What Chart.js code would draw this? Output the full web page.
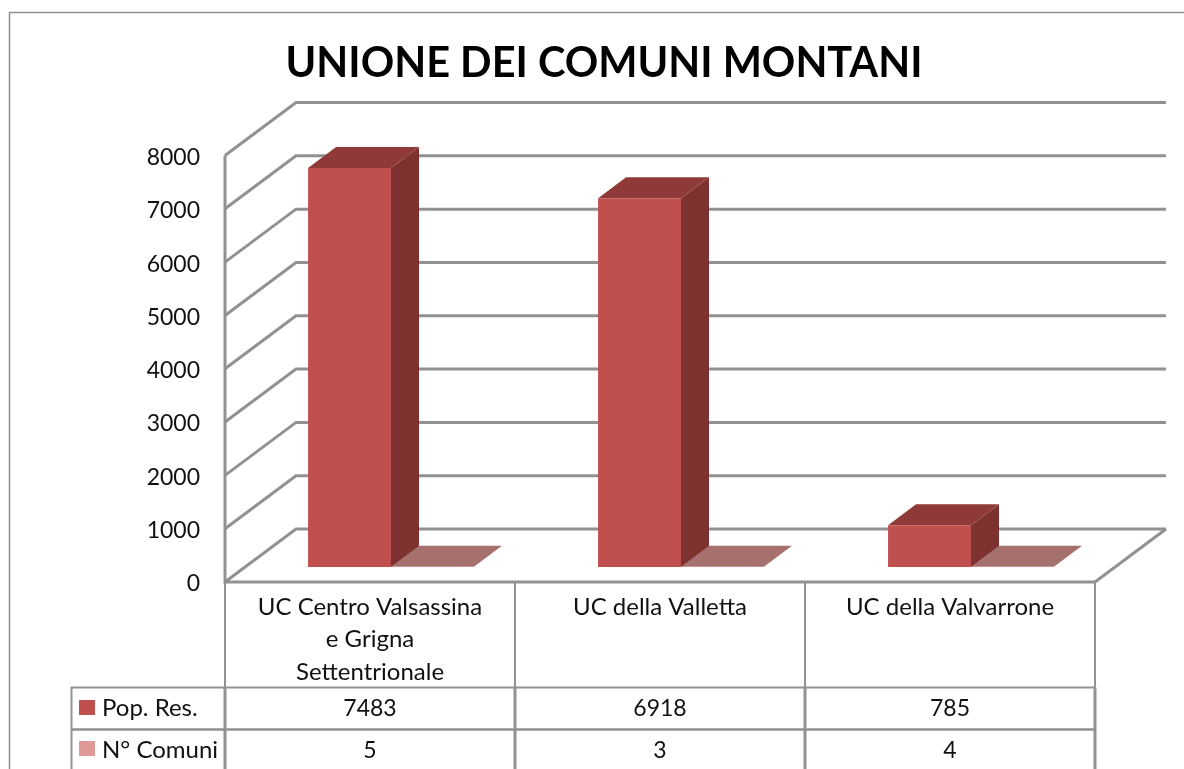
<!DOCTYPE html>
<html>
<head>
<meta charset="utf-8">
<style>
  html, body { margin: 0; padding: 0; background: #fff; overflow: hidden; }
  #wrap { width: 1184px; height: 769px; position: relative; }
</style>
<script src="https://cdn.jsdelivr.net/npm/chart.js@4/dist/chart.umd.min.js"></script>
</head>
<body>
<div id="wrap"><canvas id="chart"></canvas></div>
<script>
// Data
const categories = [
    ['UC Centro Valsassina', 'e Grigna', 'Settentrionale'],
    ['UC della Valletta'],
    ['UC della Valvarrone']
];
const popRes = [7483, 6918, 785];
const nComuni = [5, 3, 4];
const seriesNames = ['Pop. Res.', 'N° Comuni'];
const chartTitle = 'UNIONE DEI COMUNI MONTANI';

const FONT = 'Lato';
const LINE = '#919191';
const RED = '#c0504d';
const PINK = '#e09997';
const TEXT = '#111111';

// 3D offsets: floor depth, and where the bars sit on the floor
const WALL = { dx: 71, dy: -53 };
const BAR_FRONT = { dx: 21, dy: -15 };
const BAR_DEPTH = { dx: 28, dy: -21 };

function chartLine(ctx, pts, width, color) {
    ctx.beginPath();
    pts.forEach((p, i) => i ? ctx.lineTo(p[0], p[1]) : ctx.moveTo(p[0], p[1]));
    ctx.lineWidth = width;
    ctx.strokeStyle = color || LINE;
    ctx.stroke();
}

function chartFace(ctx, pts, color) {
    ctx.beginPath();
    pts.forEach((p, i) => i ? ctx.lineTo(p[0], p[1]) : ctx.moveTo(p[0], p[1]));
    ctx.closePath();
    ctx.fillStyle = color;
    ctx.fill();
}

// Walls, floor, table and the fake depth of the bars
const box3d = {
    id: 'box3d',
    afterLayout(chart) {
        // title is centred on the frame, not on the plot
        chart.titleBlock.left = 24;
        chart.titleBlock.right = 1184;
    },
    beforeDatasetsDraw(chart) {
        const ctx = chart.ctx;
        const x = chart.scales.x, y = chart.scales.y;
        const left = chart.chartArea.left, right = chart.chartArea.right;
        ctx.save();
        ctx.lineJoin = 'miter';

        // outer frame, cut by the picture edge
        chartLine(ctx, [[9.5, 769], [9.5, 12.5], [1184, 12.5]], 1.5, '#8f8f8f');

        // grid lines run up the side wall and along the back wall
        y.ticks.forEach((t, i) => {
            const py = y.getPixelForTick(i);
            chartLine(ctx, [[left, py], [left + WALL.dx, py + WALL.dy], [right + WALL.dx, py + WALL.dy]], 3);
        });
        const bottom = y.getPixelForValue(0);
        chartLine(ctx, [[right, bottom], [right + WALL.dx, bottom + WALL.dy]], 3);
        chartLine(ctx, [[left, y.getPixelForValue(8000)], [left, bottom], [right, bottom]], 3);

        // table under the plot
        const rowA = 687.5, rowB = 729.5;
        const edges = [left, (x.getPixelForValue(0) + x.getPixelForValue(1)) / 2,
            (x.getPixelForValue(1) + x.getPixelForValue(2)) / 2, right];
        edges.forEach(ex => {
            chartLine(ctx, [[ex, bottom], [ex, rowA]], 2);
            chartLine(ctx, [[ex, rowA], [ex, 769]], 3);
        });
        chartLine(ctx, [[71.5, 769], [71.5, rowA], [right, rowA]], 2);
        chartLine(ctx, [[71.5, rowB], [right, rowB]], 2.5);

        ctx.fillStyle = RED;
        ctx.fillRect(79, 700, 16, 15);
        ctx.fillStyle = PINK;
        ctx.fillRect(79, 741, 16, 15);

        ctx.font = '24px ' + FONT;
        ctx.fillStyle = TEXT;
        ctx.textBaseline = 'middle';
        ctx.textAlign = 'left';
        ctx.fillText(seriesNames[0], 102, 708);
        ctx.fillText(seriesNames[1], 102, 750);
        ctx.font = '23px ' + FONT;
        ctx.textAlign = 'center';
        popRes.forEach((v, i) => ctx.fillText(String(v), x.getPixelForValue(i), 709));
        nComuni.forEach((v, i) => ctx.fillText(String(v), x.getPixelForValue(i), 751));

        // side and top faces of the bars, from the bar elements
        const dx = BAR_DEPTH.dx, dy = BAR_DEPTH.dy;
        chart.getDatasetMeta(1).data.forEach(el => {
            const l = el.x - el.width / 2 + BAR_FRONT.dx, r = el.x + el.width / 2 + BAR_FRONT.dx;
            const t = el.y + BAR_FRONT.dy;
            chartFace(ctx, [[l, t], [l + dx, t + dy], [r + dx, t + dy], [r, t]], '#a6706e');
        });
        chart.getDatasetMeta(0).data.forEach(el => {
            const l = el.x - el.width / 2 + BAR_FRONT.dx, r = el.x + el.width / 2 + BAR_FRONT.dx;
            const t = el.y + BAR_FRONT.dy, b = el.base + BAR_FRONT.dy;
            chartFace(ctx, [[r, t], [r + dx, t + dy], [r + dx, b + dy], [r, b]], '#7d3230');
            chartFace(ctx, [[l, t], [l + dx, t + dy], [r + dx, t + dy], [r, t]], '#8f3a38');
        });
        ctx.restore();

        // native front faces get drawn shifted onto the floor
        ctx.save();
        ctx.translate(BAR_FRONT.dx, BAR_FRONT.dy);
    },
    afterDatasetsDraw(chart) {
        chart.ctx.restore();
    }
};

new Chart(document.getElementById('chart'), {
    type: 'bar',
    data: {
        labels: categories,
        datasets: [
            { label: seriesNames[0], data: popRes, backgroundColor: RED, clip: false },
            { label: seriesNames[1], data: nComuni, backgroundColor: PINK, clip: false }
        ]
    },
    plugins: [box3d],
    options: {
        responsive: true,
        maintainAspectRatio: false,
        animation: false,
        layout: { padding: { left: 0, right: 89, top: 0, bottom: 0 } },
        datasets: { bar: { categoryPercentage: 0.572, barPercentage: 1 } },
        scales: {
            x: {
                grid: { display: false, drawTicks: false },
                border: { display: false },
                afterFit(s) { s.height = 187; },
                ticks: {
                    autoSkip: false, maxRotation: 0, minRotation: 0, padding: 9,
                    color: TEXT,
                    font: { family: FONT, size: 24, lineHeight: 1.35 }
                }
            },
            y: {
                min: 0,
                max: 8000,
                grid: { display: false, drawTicks: false },
                border: { display: false },
                afterFit(s) { s.width = 225; },
                ticks: {
                    stepSize: 1000, padding: 25, labelOffset: 2,
                    color: TEXT,
                    font: { family: FONT, size: 23 },
                    callback: v => String(v)
                }
            }
        },
        plugins: {
            legend: { display: false },
            tooltip: { enabled: false },
            title: {
                display: true,
                text: chartTitle,
                color: '#000',
                font: { family: FONT, size: 41.5, weight: 'bold', lineHeight: 1 },
                padding: { top: 43, bottom: 71 }
            }
        }
    }
});
</script>
</body>
</html>
